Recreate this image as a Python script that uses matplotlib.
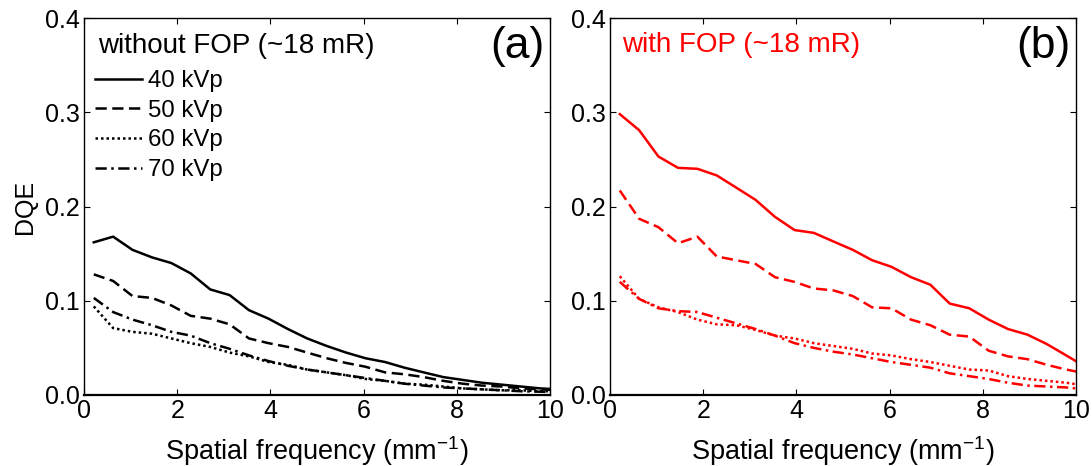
import matplotlib
matplotlib.use("Agg")
import matplotlib.pyplot as plt

plt.rcParams['font.family'] = ['Liberation Sans', 'DejaVu Sans']

freq = [0.21, 0.625, 1.04, 1.46, 1.875, 2.29, 2.71, 3.125, 3.54, 3.96, 4.375, 4.79,
        5.21, 5.625, 6.04, 6.46, 6.875, 7.29, 7.71, 8.125, 8.54, 8.96, 9.375, 9.79, 10.2]

labels = ["40 kVp", "50 kVp", "60 kVp", "70 kVp"]

no_fop_40 = [0.162, 0.168, 0.154, 0.146, 0.140, 0.129, 0.112, 0.106, 0.090, 0.081, 0.070, 0.060,
             0.052, 0.045, 0.039, 0.035, 0.029, 0.024, 0.019, 0.016, 0.013, 0.011, 0.009, 0.007, 0.006]
no_fop_50 = [0.128, 0.121, 0.105, 0.103, 0.095, 0.084, 0.081, 0.075, 0.060, 0.055, 0.051, 0.045,
             0.039, 0.034, 0.030, 0.024, 0.022, 0.019, 0.015, 0.012, 0.010, 0.009, 0.007, 0.006, 0.005]
no_fop_60 = [0.094, 0.071, 0.067, 0.065, 0.060, 0.055, 0.051, 0.045, 0.041, 0.035, 0.032, 0.027,
             0.024, 0.021, 0.017, 0.015, 0.012, 0.011, 0.009, 0.007, 0.006, 0.005, 0.005, 0.004, 0.004]
no_fop_70 = [0.103, 0.088, 0.080, 0.074, 0.067, 0.063, 0.055, 0.049, 0.042, 0.036, 0.031, 0.027,
             0.024, 0.021, 0.018, 0.015, 0.012, 0.010, 0.008, 0.007, 0.006, 0.005, 0.004, 0.0035, 0.003]

fop_40 = [0.298, 0.281, 0.253, 0.241, 0.240, 0.233, 0.220, 0.207, 0.189, 0.175, 0.172, 0.163,
          0.154, 0.143, 0.136, 0.125, 0.117, 0.097, 0.092, 0.080, 0.070, 0.064, 0.054, 0.042, 0.030]
fop_50 = [0.217, 0.187, 0.178, 0.161, 0.168, 0.147, 0.143, 0.139, 0.125, 0.120, 0.113, 0.111,
          0.105, 0.093, 0.092, 0.080, 0.074, 0.064, 0.062, 0.047, 0.041, 0.038, 0.032, 0.027, 0.023]
fop_60 = [0.126, 0.102, 0.093, 0.088, 0.080, 0.075, 0.074, 0.069, 0.063, 0.060, 0.055, 0.052,
          0.049, 0.044, 0.042, 0.038, 0.035, 0.031, 0.027, 0.026, 0.020, 0.017, 0.015, 0.013, 0.010]
fop_70 = [0.120, 0.102, 0.092, 0.089, 0.088, 0.082, 0.076, 0.070, 0.063, 0.055, 0.050, 0.046,
          0.043, 0.039, 0.035, 0.032, 0.029, 0.023, 0.020, 0.017, 0.013, 0.010, 0.009, 0.008, 0.006]

xticks = [0, 2, 4, 6, 8, 10]
yticks = [0.0, 0.1, 0.2, 0.3, 0.4]
ytick_labels = ["0.0", "0.1", "0.2", "0.3", "0.4"]

styles = ['-', (0, (4.5, 2.2)), (0, (1, 1.2)), (0, (4.5, 1.8, 1, 1.8))]

fig = plt.figure(figsize=(10.92, 4.66), dpi=100)
axL = fig.add_axes([84/1092, 1-395/466, 466/1092, 377/466])
axR = fig.add_axes([610/1092, 1-395/466, 466/1092, 377/466])

def style_axes(ax):
    ax.set_xlim(0, 10)
    ax.set_ylim(0, 0.4)
    ax.set_xticks(xticks)
    ax.set_yticks(yticks)
    ax.set_yticklabels(ytick_labels)
    ax.tick_params(direction='in', top=True, right=True, length=4, width=0.8,
                   labelsize=18, pad=3)
    for s in ax.spines.values():
        s.set_linewidth(1.0)
    ax.spines['bottom'].set_linewidth(1.6)
    ax.set_xlabel("Spatial frequency (mm$^{\\mathregular{-1}}$)", fontsize=19.5, labelpad=8)

for data, ls, lab in zip([no_fop_40, no_fop_50, no_fop_60, no_fop_70], styles, labels):
    axL.plot(freq, data, color='black', linestyle=ls, linewidth=1.8, label=lab)
for data, ls, lab in zip([fop_40, fop_50, fop_60, fop_70], styles, labels):
    axR.plot(freq, data, color='red', linestyle=ls, linewidth=1.8, label=lab)

style_axes(axL)
style_axes(axR)
axL.set_ylabel("DQE", fontsize=18, labelpad=6)

axL.text(0.03, 0.925, "without FOP (~18 mR)", transform=axL.transAxes, color='black',
         fontsize=20, va='center', ha='left')

leg = axL.legend(loc='upper left', bbox_to_anchor=(0.024, 0.862), frameon=False,
                 fontsize=17.3, handlelength=1.95, handletextpad=0.25,
                 labelspacing=0.32, borderaxespad=0.0, borderpad=0.0)

axR.text(0.025, 0.928, "with FOP (~18 mR)", transform=axR.transAxes, color='red',
         fontsize=20, va='center', ha='left')

axL.text(0.93, 0.925, "(a)", transform=axL.transAxes, fontsize=32, va='center', ha='center')
axR.text(0.93, 0.925, "(b)", transform=axR.transAxes, fontsize=32, va='center', ha='center')

fig.savefig("out.png", dpi=100)
